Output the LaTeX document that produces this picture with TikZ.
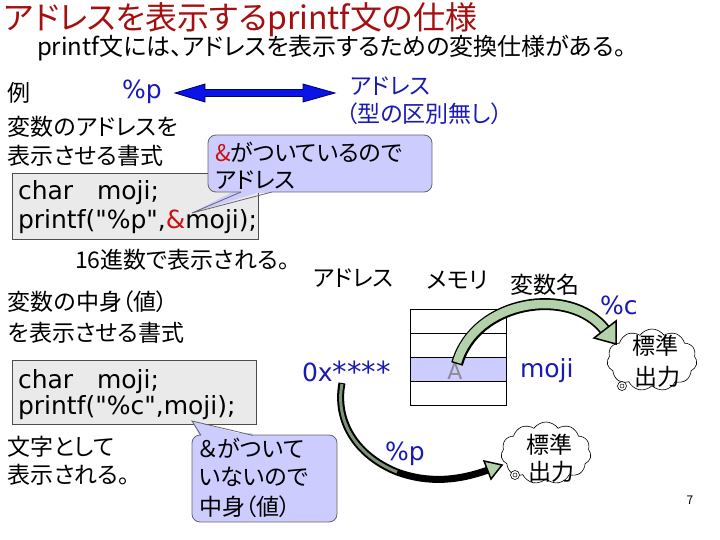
\documentclass[tikz,border=0pt]{standalone}
\usepackage{fontspec}
\setmainfont[RawFeature={+palt}]{Noto Sans CJK JP}
\newfontfamily\vd{DejaVu Sans}
\usetikzlibrary{shapes.symbols}
\definecolor{ttl}{HTML}{A50F0F}
\definecolor{bl}{HTML}{1A1AB4}
\definecolor{lav}{HTML}{CCCCFF}
\definecolor{gbox}{HTML}{EAEAEA}
\definecolor{arrg}{HTML}{B4D2AA}
\definecolor{ampr}{HTML}{CC1111}
\definecolor{arrb}{HTML}{0A14E6}
\begin{document}
\begin{tikzpicture}[x=1pt,y=-1pt,
  every node/.style={inner sep=0pt,outer sep=0pt},
  jp/.style={anchor=west,font=\fontsize{23}{23}\selectfont},
  jpb/.style={jp,text=bl},
  code/.style={anchor=west,font=\vd\fontsize{25}{25}\selectfont},
  codeb/.style={code,text=bl},
  graybox/.style={fill=gbox,draw=black!70,line width=0.8},
  callout/.style={fill=lav,draw=black!60,line width=0.8,rounded corners=8},
  cloudbox/.style={cloud,cloud puffs=11,cloud puff arc=110,aspect=1.4,draw,fill=white,line width=0.6,minimum width=90,minimum height=62},
  cloudtxt/.style={font=\fontsize{23}{23}\selectfont},
  mem/.style={draw=black,line width=0.8}]
\useasboundingbox[fill=white] (0,0) rectangle (720,540);

% title
\node[anchor=west,text=ttl,font=\fontsize{32}{32}\selectfont] (title) at (4,20) {アドレスを表示するprintf文の仕様};
\node[anchor=west,font=\fontsize{24}{24}\selectfont] (sub) at (37,48) {printf文には、アドレスを表示するための変換仕様がある。};

% example line
\node[jp] (rei) at (8,93) {例};
\node[codeb] (pp) at (122,92) {\%p};
\filldraw[fill=arrb,draw=blue!40!black,line width=0.8]
  (175,93)--(205,84)--(205,89.5)--(303,89.5)--(303,84)--(335,93)--(303,102)--(303,96.5)--(205,96.5)--(205,102)--cycle;
\node[jpb] (adr) at (350,86) {アドレス};
\node[jpb] (kata) at (346,114) {（型の区別無し）};

\node[jp] (l1) at (8,127) {変数のアドレスを};
\node[jp] (l2) at (8,156) {表示させる書式};

% code box 1
\draw[graybox] (12,173) rectangle (258,239);
\node[code] (c1a) at (18,193) {char\ \ \ moji;};
\node[code] (c1b) at (18,222) {printf("\%p",\textcolor{ampr}{\&}moji);};

% callout 1
\coordinate (tip1) at (192,213);
\fill[lav] (240,188)--(273,188)--(tip1)--cycle;
\draw[callout] (208,135) rectangle (432,192);
\fill[lav] (241,185) rectangle (272,193.5);
\draw[black!60,line width=0.8] (241,192)--(tip1)--(272,192);
\node[jp] (co1a) at (215,152) {\textcolor{ampr}{\&}がついているので};
\node[jp] (co1b) at (215,180) {アドレス};

\node[jp] (hex) at (75,260) {16進数で表示される。};

% headers
\node[jp] (h1) at (313,278) {アドレス};
\node[jp] (h2) at (427,280) {メモリ};
\node[jp] (h3) at (510,285) {変数名};

\node[jp] (l3) at (8,302) {変数の中身（値）};
\node[jp] (l4) at (8,333) {を表示させる書式};

\node[codeb] (pc) at (600,305) {\%c};

% memory
\fill[lav] (410,357) rectangle (506,381);
\draw[mem] (410,309) rectangle (506,405);
\draw[mem] (410,333)--(506,333) (410,357)--(506,357) (410,381)--(506,381);
\node[font=\vd\fontsize{22}{22}\selectfont,text=black!45] (A) at (455,371) {A};
\node[codeb] (moji) at (520,371) {moji};
\node[codeb] (hexv) at (302,372) {0x\raisebox{-1pt}{\fontsize{29}{29}\selectfont ****}};

% code box 2
\draw[graybox] (12,360) rectangle (256,424);
\node[code] (c2a) at (18,382) {char\ \ \ moji;};
\node[code] (c2b) at (18,408) {printf("\%c",moji);};

% callout 2
\coordinate (tip2) at (192,421);
\fill[lav] (200,437)--(253,437)--(tip2)--cycle;
\draw[callout] (192,435) rectangle (337,522);
\fill[lav] (201,433) rectangle (252,437.5);
\draw[black!60,line width=0.8] (201,435.4)--(tip2)--(253,435.4);
\node[jp] (co2a) at (199,448) {＆がついて};
\node[jp] (co2b) at (199,477) {いないので};
\node[jp] (co2c) at (199,507) {中身（値）};

\node[jp] (l5) at (8,447) {文字として};
\node[jp] (l6) at (8,475) {表示される。};

\node[codeb] (pp2) at (385,454) {\%p};

% clouds
\node[cloudbox] (cl1) at (652,360) {};
\node[cloudtxt] (cl1a) at (655,346) {標準};
\node[cloudtxt] (cl1b) at (657,377) {出力};
\draw[line width=0.6,fill=white] (622,386) circle (4.5);
\draw[line width=0.5] (622,386) circle (2);
\node[cloudbox] (cl2) at (546,453) {};
\node[cloudtxt] (cl2a) at (549,445) {標準};
\node[cloudtxt] (cl2b) at (551,472) {出力};
\draw[line width=0.6,fill=white] (515,475) circle (4.5);
\draw[line width=0.5] (515,475) circle (2);

% curved arrow 1 (A -> cloud 1)
\coordinate (s1) at (457,364);
\coordinate (e1) at (605,330);
\draw[line width=12,black] (s1) .. controls (475,300) and (570,285) .. (e1);
\draw[line width=8.5,arrg] (457,362.5) .. controls (475,300) and (570,285) .. (e1);
\filldraw[fill=arrg,draw=black,line width=1.5,line join=miter] (616,321)--(616,344)--(594,338)--cycle;

% curved arrow 2 (0x**** -> cloud 2)
\coordinate (s2) at (342,383);
\coordinate (m2) at (397,472);
\coordinate (e2) at (488,470);
\draw[line width=7,black] (s2) .. controls (335,420) and (355,455) .. (m2) .. controls (430,484) and (460,480) .. (e2);
\draw[line width=3,arrg!70!black] (342,384) .. controls (335,420) and (355,455) .. (m2);
\filldraw[fill=arrg,draw=black,line width=1.5,line join=miter] (502,465)--(491,479)--(484,461)--cycle;

\node[font=\fontsize{12}{12}\selectfont] (pg) at (690,500) {7};
\end{tikzpicture}
\end{document}
